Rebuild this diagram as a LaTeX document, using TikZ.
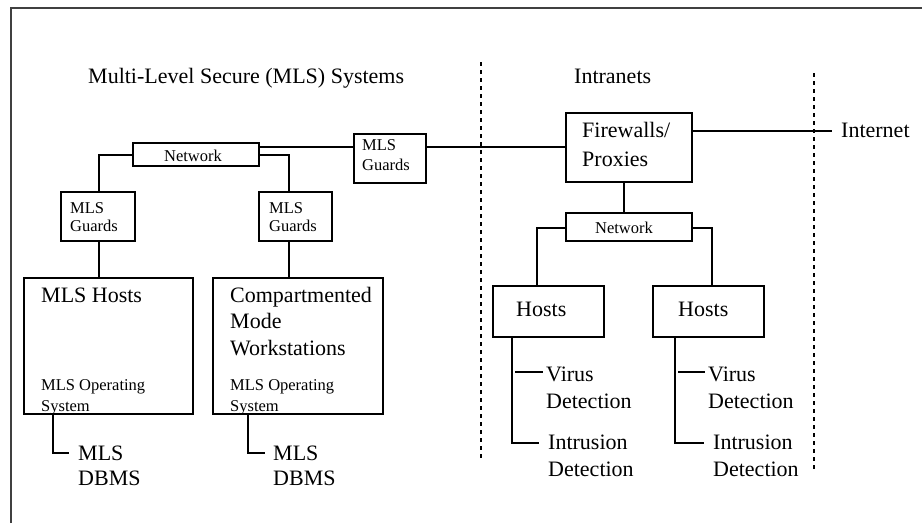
\documentclass[tikz,border=0pt]{standalone}
\usepackage{fontspec}
\setmainfont{Liberation Serif}
\begin{document}
\begin{tikzpicture}[x=1pt,y=-1pt,
  box/.style={draw,line width=2.2pt,inner sep=0pt,outer sep=0pt,anchor=north west},
  conn/.style={line width=2.5pt},
  sep/.style={line width=2.2pt,dash pattern=on 4pt off 4pt},
  big/.style={inner sep=0pt,anchor=base west,align=left,font=\fontsize{22}{26.5}\selectfont},
  small/.style={inner sep=0pt,anchor=base west,align=left,font=\fontsize{16.5}{20}\selectfont},
  frame/.style={draw=black!75,line width=1.5pt}]
\useasboundingbox (0,0) rectangle (922,523);
% frame
\draw[frame] (11,523) -- (11,8) -- (922,8);
% titles
\node[big] (t1) at (88,83) {Multi-Level Secure (MLS) Systems};
\node[big] (t2) at (574,83) {Intranets};
% separators
\coordinate (s1a) at (481,62); \coordinate (s1b) at (481,461);
\coordinate (s2a) at (814,73); \coordinate (s2b) at (814,472);
\draw[sep] (s1a) -- (s1b);
\draw[sep] (s2a) -- (s2b);
% boxes
\node[box,minimum width=126,minimum height=23] (net1) at (133,143) {};
\node[small,anchor=center] (net1t) at (193,156) {Network};
\node[box,minimum width=72,minimum height=49] (gm) at (354,134) {};
\node[small] (gmt) at (362,170) {MLS\\Guards};
\node[box,minimum width=74,minimum height=49] (gl) at (61,192) {};
\node[small] (glt) at (70,231) {MLS\\[-2pt]Guards};
\node[box,minimum width=73,minimum height=49] (gr) at (259,192) {};
\node[small] (grt) at (269,231) {MLS\\[-2pt]Guards};
\node[box,minimum width=126,minimum height=69] (fw) at (566,113) {};
\node[big] (fwt) at (582,166) {Firewalls/\\[2.5pt]Proxies};
\node[box,minimum width=126,minimum height=28] (net2) at (566,213) {};
\node[small,anchor=center] (net2t) at (624,228) {Network};
\node[box,minimum width=111,minimum height=51] (h1) at (493,286) {};
\node[big] (h1t) at (516,316) {Hosts};
\node[box,minimum width=111,minimum height=51] (h2) at (653,286) {};
\node[big] (h2t) at (678,316) {Hosts};
\node[box,minimum width=169,minimum height=136] (mh) at (24,278) {};
\node[big] (mht) at (41,302) {MLS Hosts};
\node[small] (mho) at (41,411) {MLS Operating\\[1pt]System};
\node[box,minimum width=170,minimum height=136] (cw) at (213,278) {};
\node[big] (cwt) at (230,355) {Compartmented\\Mode\\Workstations};
\node[small] (cwo) at (230,411) {MLS Operating\\[1pt]System};
% leaf texts
\node[big] (inet) at (841,137) {Internet};
\node[big] (db1) at (78,485) {MLS\\[-1.5pt]DBMS};
\node[big] (db2) at (273,485) {MLS\\[-1.5pt]DBMS};
\node[big] (v1) at (546,408) {Virus\\Detection};
\node[big] (i1) at (548,476) {Intrusion\\Detection};
\node[big] (v2) at (708,408) {Virus\\Detection};
\node[big] (i2) at (713,476) {Intrusion\\Detection};
% connectors
\draw[conn] (net1.west |- 0,155) -| (gl.north -| 99,0);
\draw[conn] (net1.east |- 0,155) -| (gr.north -| 289,0);
\draw[conn] (net1.east |- 0,147) -- (gm.west |- 0,147);
\draw[conn] (gm.east |- 0,147) -- (fw.west |- 0,147);
\draw[conn] (fw.east |- 0,131) -- (832,131) coordinate (inetend);
\draw[conn] (fw.south -| 624,0) -- (net2.north -| 624,0);
\draw[conn] (net2.west |- 0,228) -| (h1.north -| 537,0);
\draw[conn] (net2.east |- 0,228) -| (h2.north -| 712,0);
\draw[conn] (gl.south -| 99,0) -- (mh.north -| 99,0);
\draw[conn] (gr.south -| 289,0) -- (cw.north -| 289,0);
\draw[conn] (mh.south -| 53,0) |- (69,453) coordinate (db1end);
\draw[conn] (cw.south -| 248,0) |- (265,453) coordinate (db2end);
\draw[conn] (h1.south -| 512,0) |- (539,443) coordinate (i1end);
\draw[conn] (515,372) coordinate (v1start) -- (543,372) coordinate (v1end);
\draw[conn] (h2.south -| 675,0) |- (704,443) coordinate (i2end);
\draw[conn] (678,372) coordinate (v2start) -- (705,372) coordinate (v2end);
\end{tikzpicture}
\end{document}
